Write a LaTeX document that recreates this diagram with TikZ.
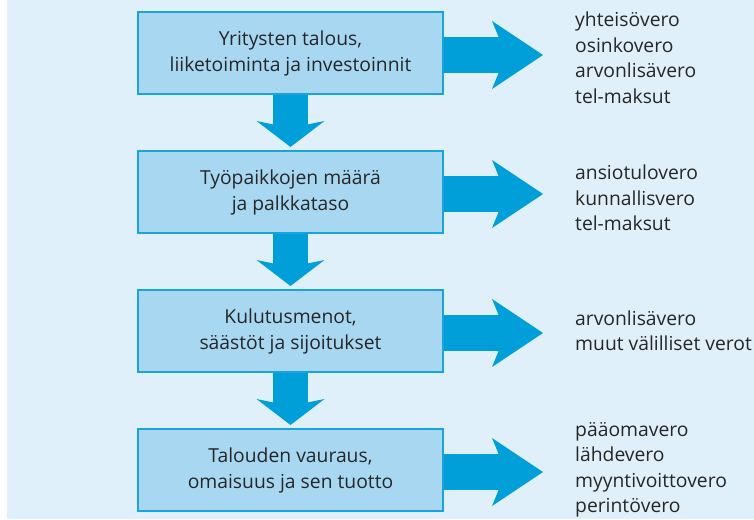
\documentclass[tikz,border=0pt]{standalone}
\usepackage{fontspec}
\setmainfont{Open Sans}
\usepackage{xcolor}
\usetikzlibrary{arrows.meta, positioning, calc}

\definecolor{bgblue}{HTML}{E0F0FA}
\definecolor{boxblue}{HTML}{A8D8F1}
\definecolor{edgeblue}{HTML}{1AA3DD}
\definecolor{flowblue}{HTML}{009FDA}

\begin{document}
\begin{tikzpicture}[
    x=1pt, y=1pt,
    node distance=55pt,
    stage/.style={draw=edgeblue, line width=2pt, fill=boxblue, align=center, minimum width=305pt, minimum height=82pt, inner sep=0pt, font=\fontsize{19.3}{26}\selectfont, text=black!85},
    taxlist/.style={align=left, inner sep=0pt, font=\fontsize{19.3}{25.5}\selectfont, text=black!85},
    down_arrow/.style={flowblue, line width=35pt, -{Stealth[length=26pt, width=68pt, inset=7pt, line width=0pt]}, shorten >=3pt},
    tax_arrow/.style={flowblue, line width=36pt, -{Stealth[length=51pt, width=68pt, inset=14pt, line width=0pt]}, shorten >=32pt}
]
    % Background
    \useasboundingbox (0,0) rectangle (754,-519);
    \fill[bgblue] (7,0) rectangle (754,-519);

    % Stages
    \node[stage] (firms) at (290.5,-53) {Yritysten talous,\\liiketoiminta ja investoinnit};
    \node[stage, below=of firms] (jobs) {Työpaikkojen määrä\\ja palkkataso};
    \node[stage, below=of jobs] (spending) {Kulutusmenot,\\säästöt ja sijoitukset};
    \node[stage, below=of spending] (wealth) {Talouden vauraus,\\omaisuus ja sen tuotto};

    \draw[down_arrow] (firms) -- (jobs);
    \draw[down_arrow] (jobs) -- (spending);
    \draw[down_arrow] (spending) -- (wealth);

    % Taxes
    \node[taxlist, right=131pt of firms, yshift=-5pt] (firms_tax) {yhteisövero\\osinkovero\\arvonlisävero\\tel-maksut};
    \node[taxlist, right=131pt of jobs, yshift=-6pt] (jobs_tax) {ansiotulovero\\kunnallisvero\\tel-maksut};
    \node[taxlist, right=131pt of spending] (spending_tax) {arvonlisävero\\muut välilliset verot};
    \node[taxlist, right=131pt of wealth] (wealth_tax) {pääomavero\\lähdevero\\myyntivoittovero\\perintövero};

    \draw[tax_arrow] ([yshift=-2pt]firms.east) -- ([yshift=-2pt]firms.east -| firms_tax.west);
    \draw[tax_arrow] ([yshift=-2pt]jobs.east) -- ([yshift=-2pt]jobs.east -| jobs_tax.west);
    \draw[tax_arrow] ([yshift=-2pt]spending.east) -- ([yshift=-2pt]spending.east -| spending_tax.west);
    \draw[tax_arrow] ([yshift=-2pt]wealth.east) -- ([yshift=-2pt]wealth.east -| wealth_tax.west);

\end{tikzpicture}
\end{document}
